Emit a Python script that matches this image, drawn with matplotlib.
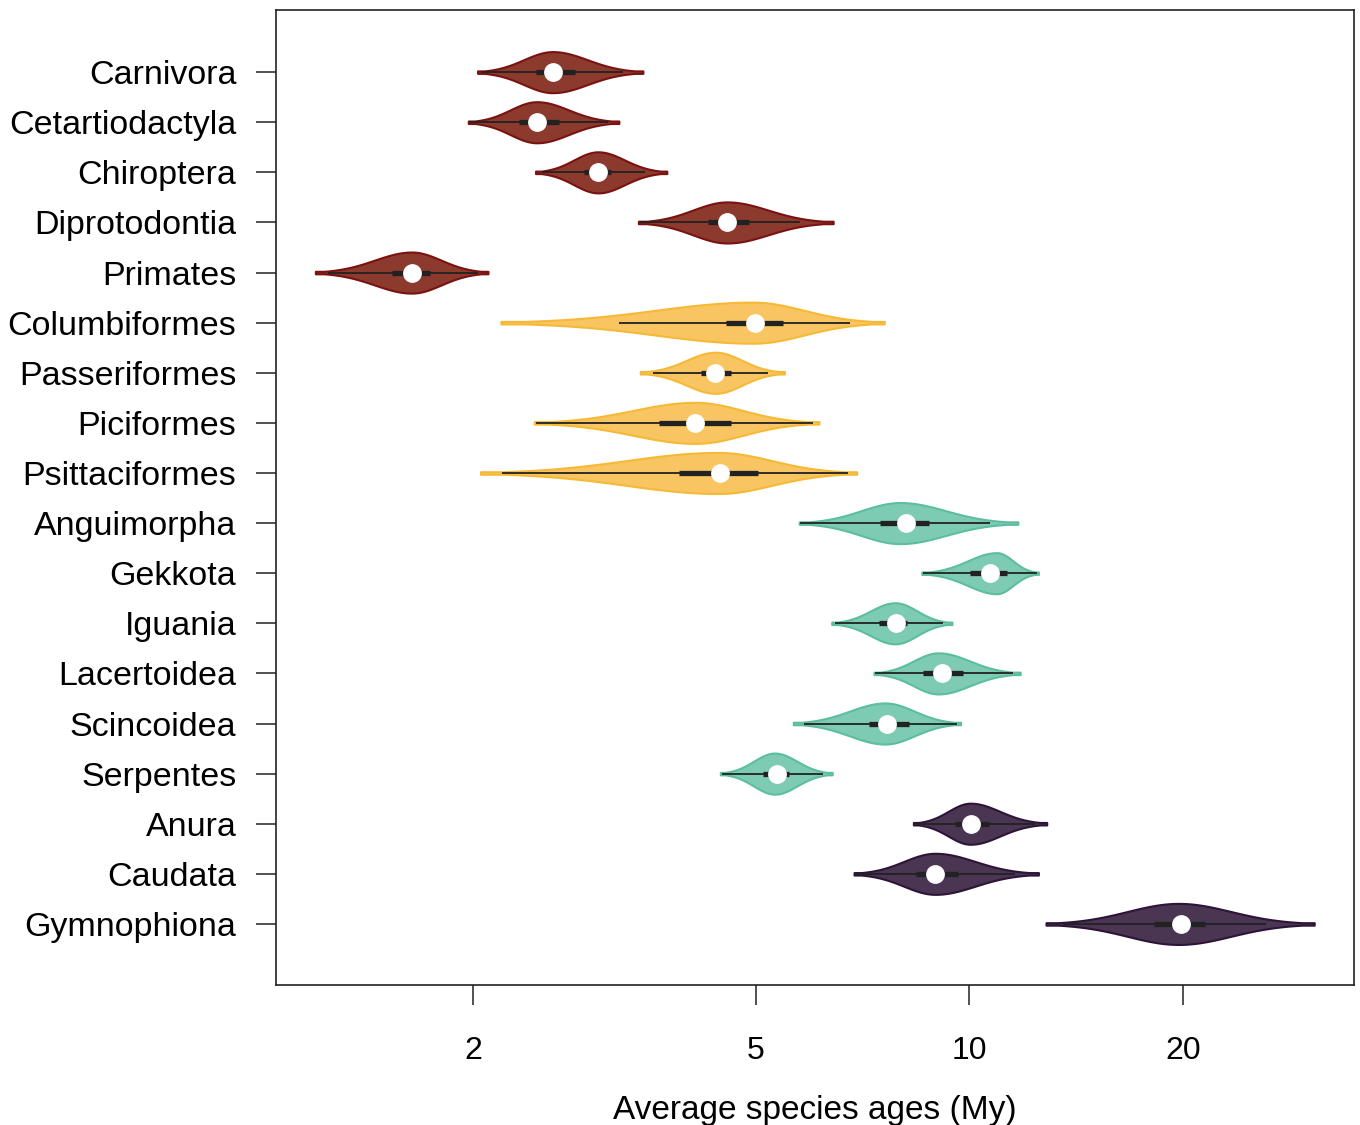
import numpy as np
import matplotlib
matplotlib.use("Agg")
import matplotlib.pyplot as plt

plt.rcParams['font.family'] = ['Liberation Sans', 'DejaVu Sans']

# clades, top to bottom
clades = ["Carnivora", "Cetartiodactyla", "Chiroptera", "Diprotodontia", "Primates",
          "Columbiformes", "Passeriformes", "Piciformes", "Psittaciformes",
          "Anguimorpha", "Gekkota", "Iguania", "Lacertoidea", "Scincoidea", "Serpentes",
          "Anura", "Caudata", "Gymnophiona"]
groups = ["mammal"] * 5 + ["bird"] * 4 + ["reptile"] * 6 + ["amphibian"] * 3

# summary of each distribution (My)
v_min = [2.03, 1.97, 2.45, 3.42, 1.20, 2.19, 3.44, 2.44, 2.05,
         5.76, 8.57, 6.40, 7.34, 5.65, 4.46, 8.34, 6.88, 12.82]
v_max = [3.47, 3.21, 3.75, 6.43, 2.10, 7.59, 5.49, 6.14, 6.94,
         11.70, 12.51, 9.45, 11.79, 9.72, 6.41, 12.85, 12.51, 30.59]
v_peak = [2.59, 2.46, 3.00, 4.56, 1.64, 4.96, 4.39, 4.11, 4.43,
          7.99, 10.93, 7.86, 9.04, 7.61, 5.32, 10.03, 8.95, 19.70]
v_median = [2.59, 2.46, 3.00, 4.56, 1.64, 4.99, 4.39, 4.11, 4.46,
            8.14, 10.70, 7.88, 9.16, 7.65, 5.36, 10.05, 8.95, 19.85]
v_q1 = [2.45, 2.32, 2.87, 4.29, 1.54, 4.54, 4.19, 3.66, 3.90,
        7.49, 10.02, 7.47, 8.60, 7.23, 5.13, 9.55, 8.41, 18.22]
v_q3 = [2.78, 2.64, 3.13, 4.89, 1.74, 5.46, 4.61, 4.62, 5.04,
        8.78, 11.29, 8.18, 9.79, 8.22, 5.58, 10.66, 9.63, 21.48]
v_wlo = [2.05, 1.98, 2.50, 3.44, 1.25, 3.21, 3.59, 2.45, 2.20,
         5.78, 8.60, 6.47, 7.36, 5.85, 4.48, 8.36, 6.90, 13.54]
v_whi = [3.25, 3.10, 3.49, 5.78, 2.03, 6.80, 5.21, 6.02, 6.74,
         10.70, 12.45, 9.19, 11.51, 9.62, 6.23, 12.37, 11.60, 26.18]

fill_colors = {"mammal": "#8C3A2E", "bird": "#F9C563",
               "reptile": "#7ECBB3", "amphibian": "#4A3552"}
edge_colors = {"mammal": "#7A1212", "bird": "#F6B935",
               "reptile": "#5CBE9E", "amphibian": "#2E1438"}

fig = plt.figure(figsize=(13.6, 11.25), dpi=100)
ax = fig.add_axes([0.2029, 0.1244, 0.7927, 0.8667])
ax.set_xscale("log")

half_w = 0.41
for i in range(len(clades)):
    y0 = i + 1
    lo, hi, pk = np.log10(v_min[i]), np.log10(v_max[i]), np.log10(v_peak[i])
    lx = np.linspace(lo, hi, 300)
    s = np.where(lx < pk, (pk - lo) / 2.6, (hi - pk) / 2.6)
    w = half_w * np.exp(-0.5 * ((lx - pk) / s) ** 2)
    w = np.maximum(w, 0.025)
    x = 10 ** lx
    g = groups[i]
    ax.fill_between(x, y0 - w, y0 + w, facecolor=fill_colors[g],
                    edgecolor=edge_colors[g], linewidth=1.5, zorder=2)
    ax.plot([v_wlo[i], v_whi[i]], [y0, y0], color="#222222", lw=1.3,
            solid_capstyle="butt", zorder=3)
    ax.plot([v_q1[i], v_q3[i]], [y0, y0], color="#222222", lw=3.8,
            solid_capstyle="butt", zorder=4)
    ax.plot(v_median[i], y0, "o", ms=12.5, mfc="white", mec="white", zorder=5)

ax.set_xlim(1.056, 34.8)
ax.set_ylim(19.22, -0.24)
ax.set_yticks(range(1, len(clades) + 1))
ax.set_yticklabels(clades, fontsize=24.5)
ax.set_xticks([2, 5, 10, 20])
ax.set_xticklabels(["2", "5", "10", "20"], fontsize=23)
ax.minorticks_off()
ax.tick_params(axis="y", length=14.5, width=1.1, pad=14, color="#222222")
ax.tick_params(axis="x", length=14.5, width=1.1, pad=22, color="#222222")
for sp in ax.spines.values():
    sp.set_linewidth(1.2)
    sp.set_color("#222222")
ax.set_xlabel("Average species ages (My)", fontsize=24, labelpad=21)

fig.savefig("out.png", dpi=100)
